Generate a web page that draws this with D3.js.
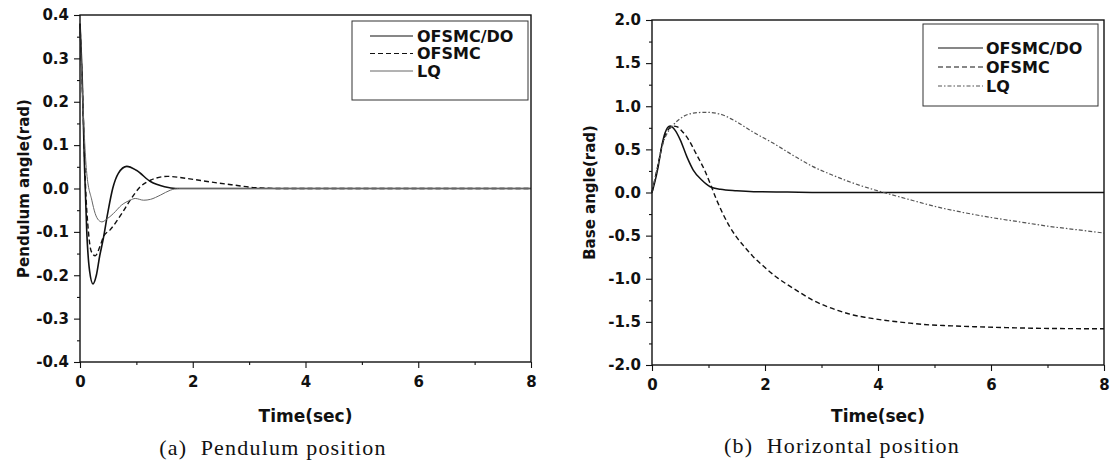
<!DOCTYPE html>
<html>
<head>
<meta charset="utf-8">
<script src="https://cdn.jsdelivr.net/npm/d3@7"></script>
<style>
body { margin: 0; background: #fff; }
svg { display: block; }
</style>
</head>
<body>
<svg id="chart" width="1110" height="468"></svg>
<script>
// (a) pendulum angle, [time, rad]
var pendOfsmcDo = [[0,0.38],[0.04,0.25],[0.08,0.05],[0.12,-0.1],[0.17,-0.19],[0.23,-0.22],[0.29,-0.2],
  [0.35,-0.155],[0.41,-0.118],[0.49,-0.058],[0.58,0],[0.68,0.035],[0.83,0.051],[1.0,0.042],[1.25,0.016],
  [1.5,0.004],[1.7,0],[8,0]];
var pendOfsmc = [[0,0.38],[0.05,0.2],[0.1,0.0],[0.15,-0.1],[0.2,-0.145],[0.27,-0.155],[0.35,-0.135],
  [0.42,-0.11],[0.53,-0.096],[0.74,-0.058],[0.89,-0.027],[1.07,0.004],[1.25,0.019],[1.55,0.028],[1.9,0.023],
  [2.32,0.015],[2.73,0.008],[3.1,0.002],[3.6,0],[8,0]];
var pendLq = [[0,0.38],[0.05,0.2],[0.12,0.035],[0.21,-0.027],[0.27,-0.058],[0.33,-0.073],[0.39,-0.077],
  [0.47,-0.071],[0.59,-0.058],[0.74,-0.038],[0.89,-0.027],[0.98,-0.023],[1.13,-0.027],[1.25,-0.025],
  [1.43,-0.015],[1.6,-0.004],[1.75,0],[8,0]];

// (b) base angle, [time, rad]
var baseOfsmcDo = [[0,0],[0.05,0.12],[0.11,0.3],[0.17,0.53],[0.23,0.69],[0.32,0.77],[0.41,0.72],[0.5,0.61],
  [0.62,0.41],[0.73,0.26],[0.88,0.145],[1.03,0.067],[1.21,0.037],[1.5,0.02],[1.8,0.01],[2.4,0.005],[3,0],[8,0]];
var baseOfsmc = [[0,0],[0.1,0.3],[0.2,0.6],[0.3,0.74],[0.38,0.77],[0.45,0.76],[0.52,0.72],[0.66,0.6],
  [0.78,0.45],[0.93,0.26],[1.05,0.07],[1.14,-0.08],[1.25,-0.24],[1.37,-0.39],[1.5,-0.52],[1.65,-0.64],
  [1.8,-0.75],[2.0,-0.87],[2.2,-0.98],[2.4,-1.07],[2.62,-1.16],[2.85,-1.25],[3.09,-1.32],[3.3,-1.37],
  [3.56,-1.42],[3.8,-1.45],[4.1,-1.48],[4.5,-1.51],[4.8,-1.53],[5.3,-1.546],[5.7,-1.556],[6.3,-1.567],
  [6.9,-1.575],[8,-1.58]];
var baseLq = [[0,0],[0.1,0.3],[0.2,0.58],[0.3,0.72],[0.4,0.8],[0.55,0.88],[0.73,0.92],[0.95,0.93],[1.2,0.91],
  [1.44,0.84],[1.79,0.7],[2.15,0.57],[2.5,0.43],[2.85,0.3],[3.2,0.2],[3.6,0.1],[4.1,0],[4.6,-0.09],[5,-0.16],
  [5.5,-0.23],[6,-0.29],[6.5,-0.34],[7,-0.39],[7.5,-0.43],[8,-0.47]];

var seriesNames = ["OFSMC/DO", "OFSMC", "LQ"];
var timeTicks = [0, 2, 4, 6, 8];
var timeMinor = [1, 3, 5, 7];
var pendTicks = [0.4, 0.3, 0.2, 0.1, 0, -0.1, -0.2, -0.3, -0.4];
var pendMinor = [0.35, 0.25, 0.15, 0.05, -0.05, -0.15, -0.25, -0.35];
var baseTicks = [2, 1.5, 1, 0.5, 0, -0.5, -1, -1.5, -2];
var baseMinor = [1.75, 1.25, 0.75, 0.25, -0.25, -0.75, -1.25, -1.75];

var sans = "'DejaVu Sans', Verdana, sans-serif";
var serif = "'Liberation Serif', 'Times New Roman', serif";

var svg = d3.select("#chart");

var panels = [
  {left: 80, right: 531, top: 15, bottom: 362, ydom: [-0.4, 0.4], ticks: pendTicks, minor: pendMinor,
   ylabel: "Pendulum angle(rad)", ylabelX: 24, caption: "(a)  Pendulum position", capX: 273, capY: 448,
   data: [pendOfsmcDo, pendOfsmc, pendLq],
   styles: [{c: "#111", w: 1.6, d: null}, {c: "#111", w: 1.4, d: "5,3"}, {c: "#666", w: 1, d: null}],
   legend: {x: 352, y: 21, w: 176, h: 79, lx0: 370, lx1: 413, tx: 417, rows: [36, 53.5, 71]}},
  {left: 652, right: 1104, top: 20, bottom: 365, ydom: [-2, 2], ticks: baseTicks, minor: baseMinor,
   ylabel: "Base angle(rad)", ylabelX: 590, caption: "(b)  Horizontal position", capX: 842, capY: 446,
   data: [baseOfsmcDo, baseOfsmc, baseLq],
   styles: [{c: "#111", w: 1.5, d: null}, {c: "#111", w: 1.4, d: "5,3"}, {c: "#555", w: 1.2, d: "4,2,1.5,2"}],
   legend: {x: 923, y: 24, w: 175, h: 82, lx0: 938, lx1: 983, tx: 986, rows: [48, 67, 86]}}
];

panels.forEach(function (p) {
  var x = d3.scaleLinear().domain([0, 8]).range([p.left, p.right]);
  var y = d3.scaleLinear().domain(p.ydom).range([p.bottom, p.top]);
  var g = svg.append("g");

  // curves
  var line = d3.line()
    .x(function (d) { return x(d[0]); })
    .y(function (d) { return y(d[1]); })
    .curve(d3.curveMonotoneX);
  p.data.forEach(function (s, i) {
    var st = p.styles[i];
    g.append("path")
      .attr("d", line(s))
      .attr("fill", "none")
      .attr("stroke", st.c)
      .attr("stroke-width", st.w)
      .attr("stroke-dasharray", st.d);
  });

  // axes
  g.append("g").attr("transform", "translate(" + p.left + ",0)")
    .call(d3.axisLeft(y).tickValues(p.ticks).tickSize(6).tickPadding(5)
      .tickFormat(function (d) { return d.toFixed(1); }));
  g.append("g").attr("transform", "translate(" + p.left + ",0)")
    .call(d3.axisLeft(y).tickValues(p.minor).tickSize(3).tickFormat(""));
  g.append("g").attr("transform", "translate(0," + p.bottom + ")")
    .call(d3.axisBottom(x).tickValues(timeTicks).tickSize(6).tickPadding(8));
  g.append("g").attr("transform", "translate(0," + p.bottom + ")")
    .call(d3.axisBottom(x).tickValues(timeMinor).tickSize(3).tickFormat(""));
  g.selectAll(".domain").remove();
  g.selectAll(".tick line").attr("stroke", "#111").attr("stroke-width", 1.1);
  g.selectAll(".tick text")
    .style("font-family", sans).style("font-weight", "bold").style("font-size", "15px").attr("fill", "#111");

  // frame
  g.append("rect")
    .attr("x", p.left).attr("y", p.top)
    .attr("width", p.right - p.left).attr("height", p.bottom - p.top)
    .attr("fill", "none").attr("stroke", "#111").attr("stroke-width", 1.4);

  // legend
  var L = p.legend;
  g.append("rect").attr("x", L.x).attr("y", L.y).attr("width", L.w).attr("height", L.h)
    .attr("fill", "#fff").attr("stroke", "#333").attr("stroke-width", 1);
  seriesNames.forEach(function (n, i) {
    var st = p.styles[i];
    g.append("line").attr("x1", L.lx0).attr("x2", L.lx1).attr("y1", L.rows[i]).attr("y2", L.rows[i])
      .attr("stroke", st.c).attr("stroke-width", Math.min(st.w, 1.2)).attr("stroke-dasharray", st.d);
    g.append("text").attr("x", L.tx).attr("y", L.rows[i]).attr("dy", "0.36em")
      .style("font-family", sans).style("font-weight", "bold").style("font-size", "16px")
      .attr("fill", "#111").text(n);
  });

  // titles
  g.append("text")
    .attr("transform", "translate(" + p.ylabelX + "," + ((p.top + p.bottom) / 2) + ") rotate(-90)")
    .attr("text-anchor", "middle").attr("dy", "0.35em")
    .style("font-family", sans).style("font-weight", "bold").style("font-size", "15px")
    .attr("fill", "#111").text(p.ylabel);
  g.append("text")
    .attr("x", (p.left + p.right) / 2).attr("y", 416).attr("dy", "0.36em")
    .attr("text-anchor", "middle")
    .style("font-family", sans).style("font-weight", "bold").style("font-size", "17px")
    .attr("fill", "#111").text("Time(sec)");
  g.append("text")
    .attr("x", p.capX).attr("y", p.capY).attr("dy", "0.33em")
    .attr("text-anchor", "middle")
    .style("font-family", serif).style("font-size", "22px").style("letter-spacing", "1.2px")
    .style("white-space", "pre")
    .attr("fill", "#111").text(p.caption);
});
</script>
</body>
</html>
